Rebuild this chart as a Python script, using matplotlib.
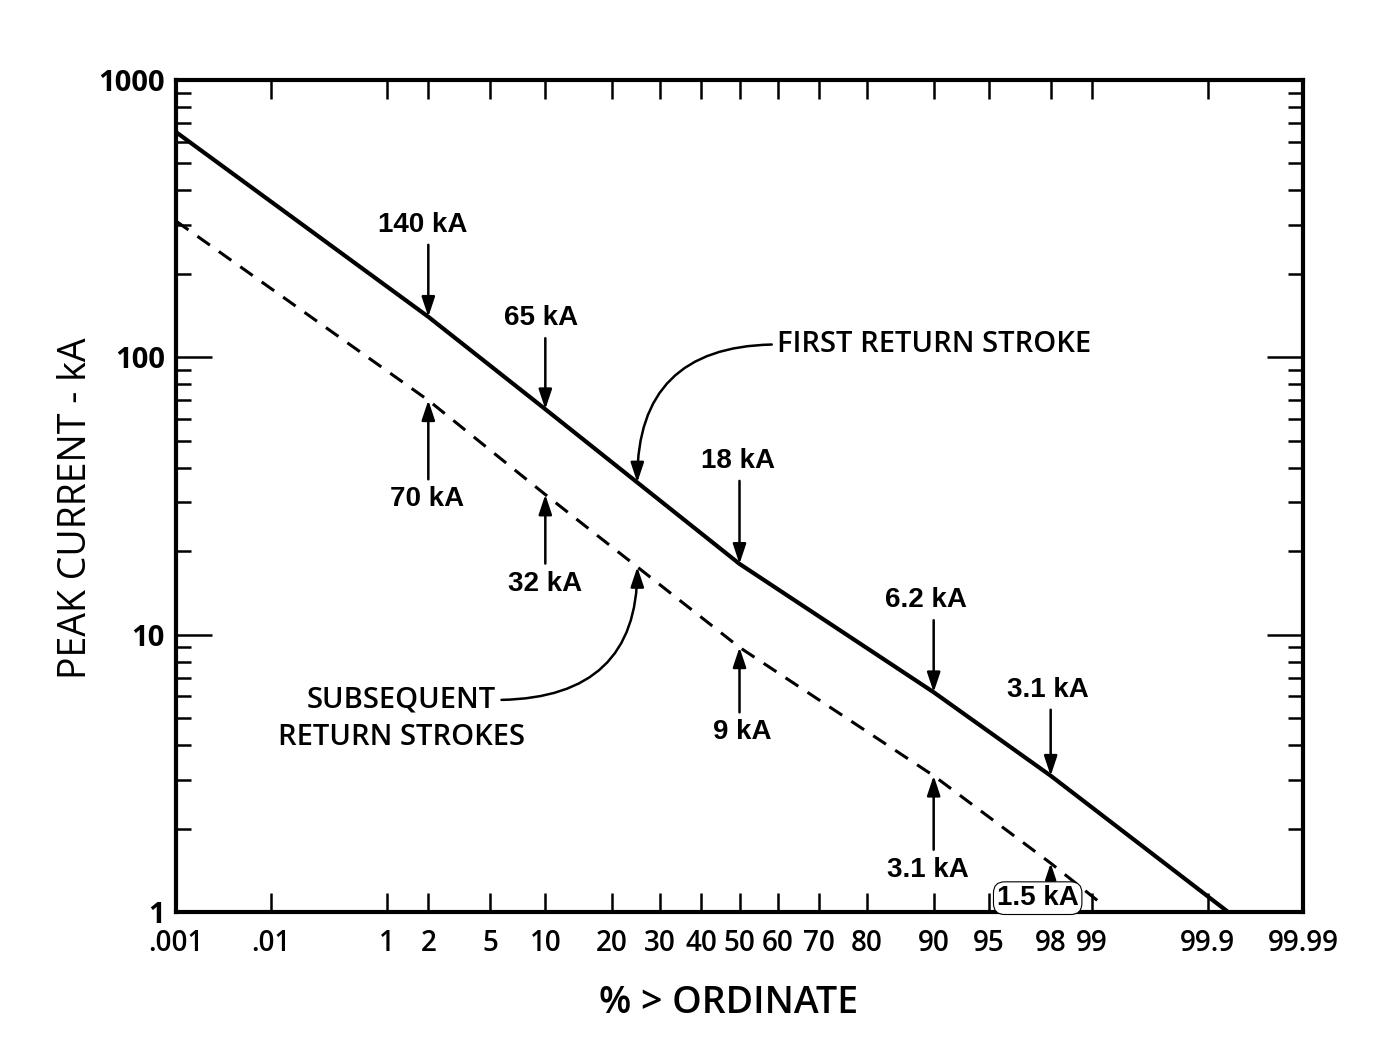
import numpy as np
import matplotlib
matplotlib.use("Agg")
import matplotlib.pyplot as plt
from matplotlib.ticker import FixedLocator, FixedFormatter, LogLocator, NullFormatter, NullLocator
from statistics import NormalDist

# ---- data -----------------------------------------------------------------
pct_ticks = [0.01, 0.1, 1, 2, 5, 10, 20, 30, 40, 50, 60, 70, 80, 90, 95, 98, 99, 99.9, 99.99]
pct_tick_labels = [".001", ".01", "1", "2", "5", "10", "20", "30", "40", "50",
                   "60", "70", "80", "90", "95", "98", "99", "99.9", "99.99"]
ka_ticks = [1, 10, 100, 1000]
ka_tick_labels = ["1", "10", "100", "1000"]

# labelled points of the two distributions (percent exceeding, peak current kA)
first_mark_pct = [2, 10, 50, 90, 98]
first_mark_ka = [140, 65, 18, 6.2, 3.1]
subs_mark_pct = [2, 10, 50, 90, 98]
subs_mark_ka = [70, 32, 9, 3.1, 1.5]

# line ends
first_end_pct = [0.01, 99.937]
first_end_ka = [649, 1.0]
subs_end_pct = [0.01, 99.2]
subs_end_ka = [310, 1.05]

first_pct = [first_end_pct[0]] + first_mark_pct + [first_end_pct[1]]
first_ka = [first_end_ka[0]] + first_mark_ka + [first_end_ka[1]]
subs_pct = [subs_end_pct[0]] + subs_mark_pct + [subs_end_pct[1]]
subs_ka = [subs_end_ka[0]] + subs_mark_ka + [subs_end_ka[1]]

# ---- normal-probability scale --------------------------------------------
_nd = NormalDist()


def _ppf(q):
    if not np.isfinite(q):
        return np.nan
    q = min(max(q, 1e-12), 1 - 1e-12)
    return _nd.inv_cdf(q)


def prob_forward(p):
    p = np.asarray(p, dtype=float)
    return np.vectorize(_ppf, otypes=[float])(p / 100.0)


def prob_inverse(z):
    z = np.asarray(z, dtype=float)
    return 100.0 * np.vectorize(lambda v: _nd.cdf(v) if np.isfinite(v) else np.nan,
                                otypes=[float])(z)


def on_curve(pct, xs, ys):
    """Current on a plotted curve at a given percentage."""
    z = prob_forward([pct])[0]
    return 10 ** np.interp(z, prob_forward(xs), np.log10(ys))


# ---- figure ---------------------------------------------------------------
PX = 72.0 / 100.0  # points per pixel at dpi 100
fig = plt.figure(figsize=(13.79, 10.54), dpi=100, facecolor="white")
ax = fig.add_axes([176 / 1379, 1 - 912 / 1054, (1303 - 176) / 1379, (912 - 80) / 1054])

ax.set_xscale("function", functions=(prob_forward, prob_inverse))
ax.set_yscale("log")
ax.set_xlim(0.01, 99.99)
ax.set_ylim(1, 1000)

ax.plot(first_pct, first_ka, color="black", lw=3.0, solid_capstyle="butt", zorder=3)
ax.plot(subs_pct, subs_ka, color="black", lw=2.2, dashes=(5, 3.6), zorder=3)

# axes styling
for s in ax.spines.values():
    s.set_linewidth(3.0)

ax.xaxis.set_major_locator(FixedLocator(pct_ticks))
ax.xaxis.set_major_formatter(FixedFormatter(pct_tick_labels))
ax.xaxis.set_minor_locator(NullLocator())
ax.yaxis.set_major_locator(FixedLocator(ka_ticks))
ax.yaxis.set_major_formatter(FixedFormatter(ka_tick_labels))
ax.yaxis.set_minor_locator(LogLocator(base=10, subs=np.arange(2, 10)))
ax.yaxis.set_minor_formatter(NullFormatter())

ax.tick_params(axis="x", which="major", direction="in", top=True, bottom=True,
               length=14, width=1.8, pad=12)
ax.tick_params(axis="y", which="major", direction="in", left=True, right=True,
               length=26, width=1.8, pad=8)
ax.tick_params(axis="y", which="minor", direction="in", left=True, right=True,
               length=11, width=1.8)
for lab in ax.get_xticklabels():
    lab.set_fontfamily("Open Sans")
    lab.set_fontweight("semibold")
    lab.set_fontsize(20)
for lab in ax.get_yticklabels():
    lab.set_fontfamily("Open Sans")
    lab.set_fontweight("bold")
    lab.set_fontsize(21)

ax.set_xlabel("% > ORDINATE", family="Open Sans", weight="semibold", fontsize=27)
ax.xaxis.set_label_coords(0.49, -0.087)
ax.set_ylabel("PEAK CURRENT - kA", family="Open Sans", weight="normal", fontsize=27)
ax.yaxis.set_label_coords(-0.072, 0.485)

# ---- value arrows -----------------------------------------------------------
label_font = dict(family="Liberation Sans", weight="bold", fontsize=20)
arrow_kw = dict(arrowstyle="-|>,head_length=0.6,head_width=0.2", mutation_scale=20,
                lw=1.8, color="black", shrinkA=0, shrinkB=0)

# text offsets (px) from each arrow tip; first stroke labels sit above
first_text_off = [(-6, 92), (-4, 91), (-2, 103), (-8, 92), (-3, 86)]
subs_text_off = [(-1, -99), (0, -89), (3, -85), (-6, -94), (-13, -35)]

for p, v, (dx, dy) in zip(first_mark_pct, first_mark_ka, first_text_off):
    ax.annotate(f"{v:g} kA", xy=(p, v), xytext=(dx * PX, dy * PX),
                textcoords="offset points", ha="center", va="center", **label_font)
    ax.annotate("", xy=(p, v), xytext=(0, (dy - 20) * PX),
                textcoords="offset points", arrowprops=arrow_kw)

for i, (p, v, (dx, dy)) in enumerate(zip(subs_mark_pct, subs_mark_ka, subs_text_off)):
    boxed = (i == len(subs_mark_pct) - 1)
    bbox = dict(boxstyle="round,pad=0.12,rounding_size=0.4", fc="white",
                ec="black", lw=0.8) if boxed else None
    ax.annotate(f"{v:g} kA", xy=(p, v), xytext=(dx * PX, dy * PX),
                textcoords="offset points", ha="center", va="center",
                bbox=bbox, zorder=4, **label_font)
    start = dy + 18 if boxed else dy + 20
    ax.annotate("", xy=(p, v), xytext=(0, start * PX), textcoords="offset points",
                arrowprops=dict(arrow_kw, mutation_scale=16 if boxed else 20), zorder=5)

# ---- curve names --------------------------------------------------------------
name_font = dict(family="Open Sans", weight="semibold", fontsize=21)
curve_arrow = dict(arrowstyle="-|>,head_length=0.6,head_width=0.2", mutation_scale=20,
                   lw=1.8, color="black", shrinkA=2, shrinkB=0,
                   connectionstyle="angle3,angleA=0,angleB=90")

name_pct = 25
v_first = on_curve(name_pct, first_pct, first_ka)
ax.annotate("FIRST RETURN STROKE", xy=(name_pct, v_first),
            xytext=(140 * PX, 138 * PX), textcoords="offset points",
            ha="left", va="center", **name_font,
            arrowprops=dict(curve_arrow, relpos=(0, 0.5)))

v_subs = on_curve(name_pct, subs_pct, subs_ka)
ax.annotate("SUBSEQUENT", xy=(name_pct, v_subs),
            xytext=(-236 * PX, -133 * PX), textcoords="offset points",
            ha="center", va="center", **name_font,
            arrowprops=dict(curve_arrow, relpos=(1, 0.5)))
ax.annotate("RETURN STROKES", xy=(name_pct, v_subs),
            xytext=(-236 * PX, -171 * PX), textcoords="offset points",
            ha="center", va="center", **name_font)

fig.savefig("out.png", dpi=100, facecolor="white")
